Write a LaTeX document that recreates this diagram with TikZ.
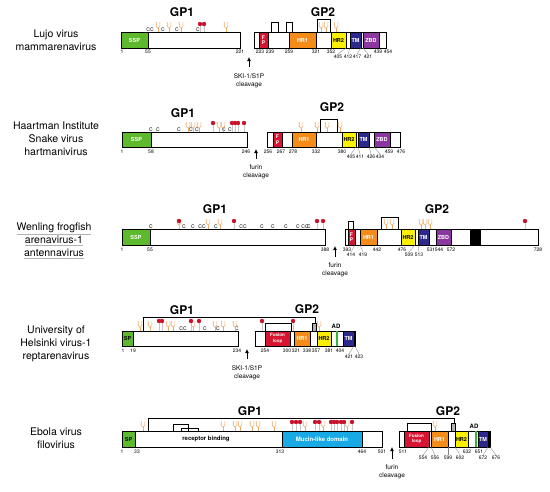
\documentclass[tikz,border=0pt]{standalone}
\usepackage{fontspec}
\setmainfont{TeX Gyre Heros}
\usetikzlibrary{arrows.meta}

\definecolor{sspgreen}{RGB}{95,185,45}
\definecolor{fpred}{RGB}{215,20,50}
\definecolor{hrorange}{RGB}{245,140,25}
\definecolor{hryellow}{RGB}{250,240,0}
\definecolor{tmblue}{RGB}{45,40,140}
\definecolor{zbdpurple}{RGB}{140,55,160}
\definecolor{mucinblue}{RGB}{25,170,230}
\definecolor{glycorange}{RGB}{238,170,105}
\definecolor{pinred}{RGB}{200,20,45}
\definecolor{adgreen}{RGB}{50,180,60}

\tikzset{
  bar/.style={draw=black, fill=white, line width=0.6pt},
  dom/.style={draw=black, fill=#1, line width=0.6pt},
  domtxt/.style={text=white, font=\fontsize{5.5}{6}\selectfont\bfseries, inner sep=0pt},
  num/.style={anchor=north, font=\fontsize{5}{5.5}\selectfont, inner sep=0.5pt},
  lead/.style={draw=gray, line width=0.3pt},
  cyslab/.style={anchor=south, font=\fontsize{5}{5.5}\selectfont, inner sep=0.3pt},
  glyc/.style={draw=glycorange, line width=0.6pt},
  pinstem/.style={draw=gray!45, line width=0.6pt},
  ssbond/.style={draw=black, line width=0.5pt},
  gplab/.style={font=\fontsize{12}{12}\selectfont\bfseries},
  vname/.style={align=center, font=\fontsize{10.5}{13}\selectfont},
  cleav/.style={anchor=north, align=center, font=\fontsize{6.5}{8}\selectfont, inner sep=1pt},
  cleavarrow/.style={-{Latex[length=4pt,width=4pt]}, line width=0.8pt, shorten <=5pt},
  adlab/.style={font=\fontsize{6}{6}\selectfont\bfseries, inner sep=0.5pt},
}

% glycan: x, bar top
\newcommand{\glycan}[2]{%
  \draw[glyc] (#1-1.8,#2-10) -- (#1-1.8,#2-5.5) arc[start angle=180,end angle=360,radius=1.8pt] -- (#1+1.8,#2-10);
  \draw[glyc] (#1,#2-3.7) -- (#1,#2);}
% red lollipop: x, bar top, height
\newcommand{\redpin}[3]{%
  \draw[pinstem] (#1,#2) -- (#1,#2-#3);
  \fill[pinred] (#1,#2-#3) circle (2.2pt);}
\newcommand{\vul}[1]{\textcolor{gray!60}{\underline{\textcolor{black}{#1}}}}

\begin{document}
\begin{tikzpicture}[x=1pt,y=-1pt]
\useasboundingbox (0,0) rectangle (550,491);

% Lujo virus
\node[vname] (vA) at (56,40) {Lujo virus\\mammarenavirus};
\node[gplab] (gp1A) at (182,12) {GP1};
\node[gplab] (gp2A) at (323,12) {GP2};
\draw[bar] (121,32) rectangle (240,48);
\draw[dom=sspgreen] (121,32) rectangle (148,48);
\node[domtxt] (sspA) at (134.5,40) {SSP};
\foreach \x/\t [count=\k] in {150/CC,163/C,177/C,198/C} \node[cyslab] (cA\k) at (\x,32) {\t};
\foreach \x in {158,169,181,226} \glycan{\x}{32};
\foreach \x in {200,204} \redpin{\x}{32}{8};
\draw[bar] (254,32) rectangle (386,48);
\draw[dom=fpred] (259,32) rectangle (268,48);
\node[domtxt, align=center, font=\fontsize{5}{5.5}\selectfont\bfseries] (fpA) at (263.5,40) {F\\P};
\draw[dom=hrorange] (289,32) rectangle (316,48);
\node[domtxt] (hr1A) at (302.5,40) {HR1};
\draw[dom=hryellow] (331,32) rectangle (346,48);
\node[domtxt, text=black] (hr2A) at (338.5,40) {HR2};
\draw[dom=tmblue] (350,32) rectangle (361,48);
\node[domtxt] (tmA) at (355.5,40) {TM};
\draw[dom=zbdpurple] (363,32) rectangle (379,48);
\node[domtxt] (zbdA) at (371,40) {ZBD};
\draw[ssbond] (271,32) |- (278,22) -- (278,32);
\draw[ssbond] (286,32) |- (292,22) -- (292,32);
\draw[ssbond] (317,32) |- (330,19) -- (330,32);
\foreach \x in {321,326,336} \glycan{\x}{32};
\foreach \x/\t in {122/1,148/55,240/221,260/223,270/239,289/259,316/321,331/352,378/439,388/454}
  \node[num] (nA\t) at (\x,49) {\t};
\foreach \x/\t in {338/405,348/412,357/417,368/421}
  \node[num] (nA\t) at (\x,54) {\t};
\draw[lead] (346,48) -- (nA405.north);
\draw[lead] (350,48) -- (nA412.north);
\draw[lead] (361,48) -- (nA417.north);
\draw[lead] (363,48) -- (nA421.north);
\node[cleav] (clA) at (249,72) {SKI-1/S1P\\cleavage};
\draw[cleavarrow] (clA.north) -- ++(0,-15);

% Haartman Institute Snake virus
\node[vname] (vB) at (56,139) {Haartman Institute\\Snake virus\\hartmanivirus};
\node[gplab] (gp1B) at (183,113) {GP1};
\node[gplab] (gp2B) at (332,107) {GP2};
\draw[bar] (122,132) rectangle (247,147);
\draw[dom=sspgreen] (122,132) rectangle (151,147);
\node[domtxt] (sspB) at (136.5,139.5) {SSP};
\foreach \x/\t [count=\k] in {151/C,158/C,179/C,191/C,197/C,224/C,230/C} \node[cyslab] (cB\k) at (\x,132) {\t};
\foreach \x in {188,193,199,219,223} \glycan{\x}{132};
\foreach \x in {213,232,235,238,244} \redpin{\x}{132}{9};
\draw[bar] (267,132) rectangle (400,147);
\draw[dom=fpred] (273,132) rectangle (282,147);
\node[domtxt, align=center, font=\fontsize{5}{5.5}\selectfont\bfseries] (fpB) at (277.5,139.5) {F\\P};
\draw[dom=hrorange] (292,132) rectangle (316,147);
\node[domtxt] (hr1B) at (304,139.5) {HR1};
\draw[dom=hryellow] (342,132) rectangle (356,147);
\node[domtxt, text=black] (hr2B) at (349,139.5) {HR2};
\draw[dom=tmblue] (358,132) rectangle (369,147);
\node[domtxt] (tmB) at (363.5,139.5) {TM};
\draw[dom=zbdpurple] (374,132) rectangle (390,147);
\node[domtxt] (zbdB) at (382,139.5) {ZBD};
\draw[ssbond] (320,132) |- (337,119) -- (337,132);
\foreach \x in {301,317,327,340} \glycan{\x}{132};
\foreach \x/\t in {122/1,151/58,246/246,268/256,281/267,293/278,316/332,342/380,389/459,401/476}
  \node[num] (nB\t) at (\x,149) {\t};
\foreach \x/\t in {351/405,360/411,371/426,380/434}
  \node[num] (nB\t) at (\x,154) {\t};
\draw[lead] (356,147) -- (nB405.north);
\draw[lead] (358,147) -- (nB411.north);
\draw[lead] (369,147) -- (nB426.north);
\draw[lead] (374,147) -- (nB434.north);
\node[cleav] (clB) at (256,164) {furin\\cleavage};
\draw[cleavarrow] (clB.north) -- ++(0,-15);

% Wenling frogfish arenavirus-1
\node[vname] (vC) at (54,241) {\vul{Wenling frogfish}\\\vul{arenavirus-1}\\\vul{antennavirus}};
\node[gplab] (gp1C) at (215,209) {GP1};
\node[gplab] (gp2C) at (437,209) {GP2};
\draw[bar] (122,229) rectangle (325,245);
\draw[dom=sspgreen] (122,229) rectangle (150,245);
\node[domtxt] (sspC) at (136,237) {SSP};
\foreach \x/\t [count=\k] in {151/C,184/C,193/C,202/CC,216/C,243/CC,262/C,273/C,286/C,298/C,305/CC,309/C}
  \node[cyslab] (cC\k) at (\x,229) {\t};
\foreach \x in {179,208,220} \glycan{\x}{229};
\foreach \x in {179,234,317,323} \redpin{\x}{229}{8};
\draw[bar] (345,229) rectangle (538,245);
\draw[dom=fpred] (348,229) rectangle (355,245);
\node[domtxt, align=center, font=\fontsize{5}{5.5}\selectfont\bfseries] (fpC) at (351.5,237) {F\\P};
\draw[dom=hrorange] (360,229) rectangle (377,245);
\node[domtxt] (hr1C) at (368.5,237) {HR1};
\draw[dom=hryellow] (401,229) rectangle (415,245);
\node[domtxt, text=black] (hr2C) at (408,237) {HR2};
\draw[dom=tmblue] (418,229) rectangle (429,245);
\node[domtxt] (tmC) at (423.5,237) {TM};
\draw[dom=zbdpurple] (436,229) rectangle (451,245);
\node[domtxt] (zbdC) at (443.5,237) {ZBD};
\draw[dom=black] (470,229) rectangle (480,245);
\draw[ssbond] (348,229) |- (353,221) -- (353,229);
\draw[ssbond] (381,229) |- (398,217) -- (398,229);
\foreach \x in {386,392,421,425,430} \glycan{\x}{229};
\redpin{525}{229}{8}
\foreach \x/\t in {122/1,150/55,325/388,347/393,377/442,402/476,431/531,439/544,451/572,538/728}
  \node[num] (nC\t) at (\x,247) {\t};
\foreach \x/\t in {351/414,363/419,409/509,419/513}
  \node[num] (nC\t) at (\x,252) {\t};
\draw[lead] (355,245) -- (nC414.north);
\draw[lead] (360,245) -- (nC419.north);
\draw[lead] (415,245) -- (nC509.north);
\draw[lead] (418,245) -- (nC513.north);
\node[cleav] (clC) at (335,262) {furin\\cleavage};
\draw[cleavarrow] (clC.north) -- ++(0,-16);

% University of Helsinki virus-1
\node[vname] (vD) at (56,344) {University of\\Helsinki virus-1\\reptarenavirus};
\node[gplab] (gp1D) at (182,310) {GP1};
\node[gplab] (gp2D) at (307,309) {GP2};
\draw[ssbond] (143,331) |- (315,317) -- (315,323);
\draw[ssbond, fill=gray!60] (312,323) rectangle (316,331);
\draw[ssbond] (265,331) |- (291,323) -- (291,331);
\draw[bar] (122,331) rectangle (238,346);
\draw[dom=sspgreen] (122,331) rectangle (133,346);
\node[domtxt, text=black] (spD) at (127.5,338.5) {SP};
\foreach \x/\t [count=\k] in {183/CC,205/C,218/C,237/C} \node[cyslab] (cD\k) at (\x,331) {\t};
\foreach \x in {140,150,168,173,193,215,223,235} \glycan{\x}{331};
\foreach \x in {159,162,191,199,262,293} \redpin{\x}{331}{10};
\draw[bar] (255,331) rectangle (355,346);
\draw[dom=fpred] (265,331) rectangle (290,346);
\node[domtxt, align=center, font=\fontsize{4.5}{5.5}\selectfont\bfseries] (flD) at (277.5,338.5) {Fusion\\loop};
\draw[dom=hrorange] (294,331) rectangle (310,346);
\node[domtxt] (hr1D) at (302,338.5) {HR1};
\draw[dom=hryellow] (317,331) rectangle (331,346);
\node[domtxt, text=black] (hr2D) at (324,338.5) {HR2};
\fill[adgreen] (335.5,331) rectangle (338,346);
\node[adlab] (adD) at (336,326) {AD};
\draw[dom=tmblue] (343,331) rectangle (354,346);
\node[domtxt] (tmD) at (348.5,338.5) {TM};
\glycan{319}{331}
\foreach \x/\t in {123/1,133/19,237/234,265/254,287/300,296/321,307/338,316/357,329/381,340/404}
  \node[num] (nD\t) at (\x,348) {\t};
\foreach \x/\t in {349/421,359/423}
  \node[num] (nD\t) at (\x,354) {\t};
\draw[lead] (354,346) -- (nD421.north);
\draw[lead] (355,346) -- (nD423.north);
\node[cleav] (clD) at (247,364) {SKI-1/S1P\\cleavage};
\draw[cleavarrow] (clD.north) -- ++(0,-15);

% Ebola virus
\node[vname] (vE) at (56,438) {Ebola virus\\filovirius};
\node[gplab] (gp1E) at (250,411) {GP1};
\node[gplab] (gp2E) at (448,411) {GP2};
\draw[ssbond] (148,431) |- (454,418) -- (454,423);
\draw[ssbond, fill=gray!60] (451,423) rectangle (455,431);
\draw[ssbond] (173,431) |- (188,424) -- (188,431);
\draw[ssbond] (181,431) |- (198,428) -- (198,431);
\draw[ssbond] (407,431) |- (431,423) -- (431,431);
\draw[bar] (122,431) rectangle (382,447);
\draw[dom=sspgreen] (122,431) rectangle (135,447);
\node[domtxt, text=black] (spE) at (128.5,439) {SP};
\node[font=\fontsize{6}{6}\selectfont\bfseries] (rbE) at (206,439) {receptor binding};
\draw[dom=mucinblue] (282,431) rectangle (362,447);
\node[domtxt, font=\fontsize{6}{6}\selectfont\bfseries] (mucE) at (322,439) {Mucin-like domain};
\foreach \x in {143,223,235,240,252,258,274,305,323,347,435} \glycan{\x}{431};
\foreach \x in {292,296,300,315,319,331,334,337,341,344,352} \redpin{\x}{431}{9};
\draw[bar] (399,431) rectangle (490,447);
\draw[dom=fpred] (404,431) rectangle (429,447);
\node[domtxt, align=center, font=\fontsize{4.5}{5.5}\selectfont\bfseries] (flE) at (416.5,439) {Fusion\\loop};
\draw[dom=hrorange] (431,431) rectangle (448,447);
\node[domtxt] (hr1E) at (439.5,439) {HR1};
\draw[dom=hryellow] (455,431) rectangle (468,447);
\node[domtxt, text=black] (hr2E) at (461.5,439) {HR2};
\fill[adgreen] (474.5,431) rectangle (477,447);
\node[adlab] (adE) at (474,426) {AD};
\draw[dom=tmblue] (478,431) rectangle (488,447);
\node[domtxt] (tmE) at (483,439) {TM};
\fill (488,431) rectangle (490,447);
\foreach \x/\t in {122/1,137/33,280/313,362/464,382/501,403/511,467/632,479/651}
  \node[num] (nE\t) at (\x,449) {\t};
\foreach \x/\t in {423/554,435/556,448/599,460/602,483/672,496/676}
  \node[num] (nE\t) at (\x,455) {\t};
\draw[lead] (429,447) -- (nE554.north);
\draw[lead] (431,447) -- (nE556.north);
\draw[lead] (448,447) -- (nE599.north);
\draw[lead] (455,447) -- (nE602.north);
\draw[lead] (488,447) -- (nE672.north);
\draw[lead] (490,447) -- (nE676.north);
\node[cleav] (clE) at (392,464) {furin\\cleavage};
\draw[cleavarrow] (clE.north) -- ++(0,-17);
\end{tikzpicture}
\end{document}
